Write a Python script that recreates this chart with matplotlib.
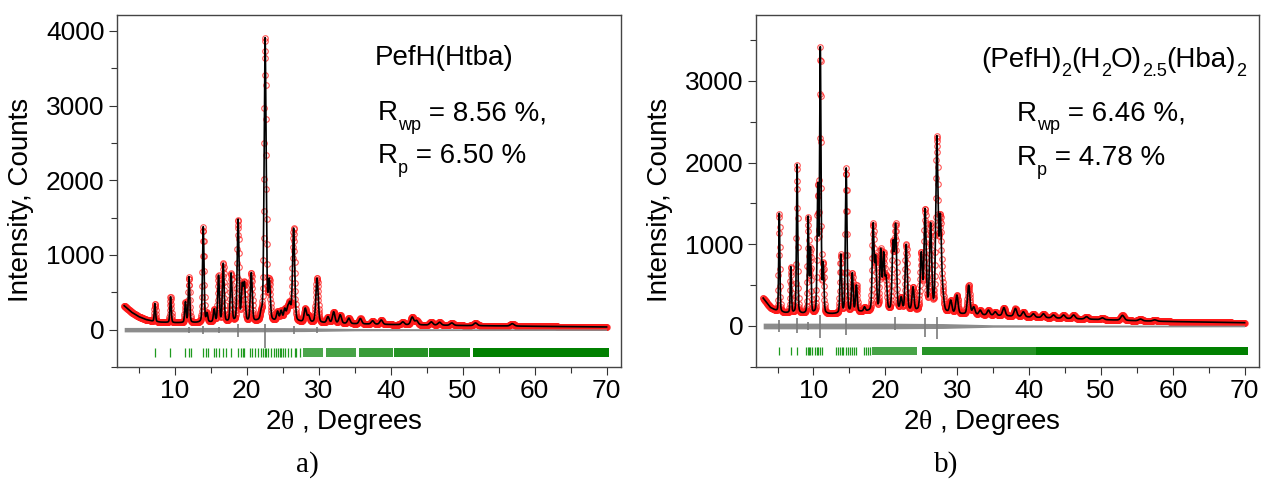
import numpy as np
import matplotlib
matplotlib.use("Agg")
import matplotlib.pyplot as plt
from matplotlib.ticker import MultipleLocator

plt.rcParams['font.family'] = ['Liberation Sans', 'DejaVu Sans']
plt.rcParams['mathtext.fontset'] = 'custom'
plt.rcParams['mathtext.rm'] = 'Liberation Sans'
plt.rcParams['mathtext.it'] = 'Liberation Serif'
plt.rcParams['mathtext.bf'] = 'Liberation Sans:bold'

# ---------------- data: panel a) PefH(Htba) ----------------
a_bg_x = [3, 4, 5, 6, 7, 8, 10, 13, 16, 20, 24, 27, 30, 35, 40, 50, 60, 70]
a_bg_y = [320, 235, 175, 135, 112, 100, 92, 92, 98, 102, 110, 105, 92, 78, 68, 55, 45, 36]
a_peak_pos = [7.27, 9.44, 11.5, 12.0, 13.98, 14.5, 15.5, 16.1, 16.76, 17.85, 18.82,
              19.4, 19.7, 20.65, 22.04, 22.57, 23.15, 24.3, 24.8, 25.3, 25.7, 26.0,
              26.53, 28.15, 28.6, 29.78, 31.3, 32.1, 33.0, 34.2, 35.8, 37.5, 38.7,
              41.7, 43.0, 43.6, 45.65, 46.8, 48.5, 51.8, 56.9]
a_peak_top = [350, 440, 375, 710, 1380, 230, 280, 730, 890, 760, 1480,
              630, 640, 765, 290, 3910, 690, 250, 260, 290, 320, 380,
              1360, 290, 200, 690, 175, 240, 200, 155, 150, 120, 130,
              105, 170, 125, 105, 100, 90, 90, 80]
a_diff_x = [3, 10, 20, 28, 35, 50, 70]
a_diff_amp = [30, 30, 30, 26, 16, 12, 10]
a_spike_pos = [11.95, 13.98, 16.1, 18.82, 22.57, 26.53, 29.78]
a_spike_lo = [-50, -60, -50, -100, -240, -60, -40]
a_spike_hi = [40, 50, 40, 70, 70, 50, 35]
a_refl = [7.27, 9.4, 11.5, 12.0, 12.3, 13.9, 14.3, 14.6, 15.5, 15.8, 16.1, 16.7,
          17.1, 17.9, 18.8, 19.2, 19.5, 19.7, 20.5, 20.7, 21.1, 21.6, 22.0, 22.3,
          22.5, 22.7, 23.0, 23.4, 23.8, 24.1, 24.35, 24.6, 24.8, 25.0, 25.4, 25.7,
          26.2, 26.7, 26.9, 27.4]
a_band_start = [27.9, 31.0, 35.6, 40.5, 45.4, 51.5]
a_band_end = [30.6, 35.2, 40.3, 45.2, 51.0, 70.4]
a_band_density = [0.7, 0.72, 0.78, 0.85, 0.9, 1.0]
a_title = [('PefH(Htba)', False)]
a_r1 = [('R', False), ('wp', True), (' = 8.56 %,', False)]
a_r2 = [('R', False), ('p', True), (' = 6.50 %', False)]

# ---------------- data: panel b) (PefH)2(H2O)2.5(Hba)2 ----------------
b_bg_x = [3, 4, 5, 6, 8, 10, 12, 14, 17, 20, 24, 28, 30, 35, 40, 45, 50, 55, 60, 70]
b_bg_y = [340, 225, 175, 160, 148, 140, 140, 150, 175, 180, 180, 165, 145, 130, 108, 92, 78, 64, 54, 40]
b_peak_pos = [5.24, 6.85, 7.72, 9.26, 9.58, 10.6, 10.95, 11.35, 13.8, 14.55, 15.4,
              15.97, 17.1, 18.3, 18.65, 19.35, 19.76, 20.1, 21.07, 21.43, 22.2, 22.9,
              23.85, 25.0, 25.54, 26.3, 27.17, 27.65, 28.0, 29.1, 29.96, 31.6, 32.3,
              33.2, 34.35, 35.3, 36.5, 38.1, 39.2, 40.6, 42.0, 43.4, 44.8, 46.2, 48.0,
              50.2, 53.0, 55.5, 57.5]
b_peak_top = [1380, 726, 1980, 1346, 971, 1754, 3420, 787, 881, 1935, 653,
              502, 236, 1265, 869, 951, 910, 624, 1053, 1257, 359, 1000,
              481, 910, 1440, 1265, 2330, 1380, 480, 318, 379, 500, 236,
              195, 195, 175, 225, 215, 175, 150, 150, 135, 135, 135, 114,
              100, 130, 85, 75]
b_diff_x = [3, 10, 20, 28, 35, 50, 70]
b_diff_amp = [35, 35, 35, 30, 15, 12, 10]
b_spike_pos = [5.24, 7.72, 9.26, 10.9, 14.55, 21.3, 25.54, 27.17]
b_spike_lo = [-70, -90, -50, -150, -110, -50, -130, -165]
b_spike_hi = [70, 95, 50, 135, 95, 110, 95, 115]
b_refl = [5.24, 6.85, 7.68, 8.93, 9.17, 9.4, 9.58, 9.86, 10.18, 10.42, 10.65, 10.88,
          11.25, 13.2, 13.4, 13.65, 13.9, 14.1, 14.5, 14.8, 15.05, 15.4, 15.7, 15.97,
          17.04, 17.36, 17.6, 17.8]
b_band_start = [18.1, 25.1, 41.0]
b_band_end = [24.4, 41.0, 70.5]
b_band_density = [0.72, 0.85, 1.0]
b_title = [('(PefH)', False), ('2', True), ('(H', False), ('2', True), ('O)', False),
           ('2.5', True), ('(Hba)', False), ('2', True)]
b_r1 = [('R', False), ('wp', True), (' = 6.46 %,', False)]
b_r2 = [('R', False), ('p', True), (' = 4.78 %', False)]

panels = [
    dict(bgx=a_bg_x, bgy=a_bg_y, pos=a_peak_pos, top=a_peak_top,
         dx=a_diff_x, damp=a_diff_amp, sp=a_spike_pos, slo=a_spike_lo, shi=a_spike_hi,
         refl=a_refl, bs=a_band_start, be=a_band_end, bd=a_band_density,
         ylim=(-500, 4213), tick_y=(-360, -250),
         texts=[(a_title, 37.8, 3543), (a_r1, 38.2, 2807), (a_r2, 38.2, 2228)],
         rect=[117/1265, 1 - 367/493, 504/1265, 352/493], cap='a)', cap_x=307/1265),
    dict(bgx=b_bg_x, bgy=b_bg_y, pos=b_peak_pos, top=b_peak_top,
         dx=b_diff_x, damp=b_diff_amp, sp=b_spike_pos, slo=b_spike_lo, shi=b_spike_hi,
         refl=b_refl, bs=b_band_start, be=b_band_end, bd=b_band_density,
         ylim=(-502, 3807), tick_y=(-355, -253),
         texts=[(b_title, 33.3, 3174), (b_r1, 38.3, 2515), (b_r2, 38.3, 1970)],
         rect=[756/1265, 1 - 367/493, 503/1265, 352/493], cap='b)', cap_x=946/1265),
]


def pv(x, c, w, eta=0.25):
    d = (x - c) / w
    return eta / (1 + 4 * d ** 2) + (1 - eta) * np.exp(-4 * np.log(2) * d ** 2)


def build(x, p):
    base = np.interp(x, p['bgx'], p['bgy'])
    pos = np.array(p['pos'], float)
    w = 0.14 + 0.008 * pos
    A = np.array([[pv(pi, pj, wj) for pj, wj in zip(pos, w)] for pi in pos])
    amp = np.linalg.solve(A, np.array(p['top'], float) - np.interp(pos, p['bgx'], p['bgy']))
    y = base.copy()
    for c, wj, a in zip(pos, w, amp):
        y += a * pv(x, c, wj)
    return y


def rich_text(ax, parts, x0, y0, size=20, subsize=13, drop=7.0):
    prev = None
    for txt, sub in parts:
        dy = -drop if sub else 0.0
        fs = subsize if sub else size
        if prev is None:
            prev = ax.annotate(txt, xy=(x0, y0), xycoords='data',
                               xytext=(0, dy), textcoords='offset points',
                               fontsize=fs, ha='left', va='baseline')
        else:
            prev = ax.annotate(txt, xy=(1.0, y0), xycoords=(prev, 'data'),
                               xytext=(0, dy), textcoords='offset points',
                               fontsize=fs, ha='left', va='baseline')


fig = plt.figure(figsize=(12.65, 4.93), dpi=100)
x = np.arange(3.0, 70.0001, 0.01)

for p in panels:
    ax = fig.add_axes(p['rect'])
    y = build(x, p)
    xo = x[::3]
    yo = y[::3]
    # observed
    ax.plot(xo, yo, 'o', ms=4.0, mfc='none', mec='#ff1a1a', mew=0.8, alpha=0.75, zorder=2)
    # calculated
    ax.plot(x, y, '-', color='black', lw=1.2, zorder=3)
    # difference
    env = np.interp(x, p['dx'], p['damp'])
    ax.fill_between(x, -env, env, color='#8c8c8c', lw=0, zorder=2)
    ax.vlines(p['sp'], p['slo'], p['shi'], color='#7a7a7a', lw=1.2, zorder=2)
    # reflection positions
    y0, y1 = p['tick_y']
    ax.vlines(p['refl'], y0, y1, color='#1f9a1f', lw=0.9, zorder=2)
    for s, e, d in zip(p['bs'], p['be'], p['bd']):
        ax.fill_between([s, e], y0, y1, color='#008000', alpha=d, lw=0, zorder=2)

    ax.set_xlim(2, 72)
    ax.set_ylim(*p['ylim'])
    ax.xaxis.set_major_locator(MultipleLocator(10))
    ax.xaxis.set_minor_locator(MultipleLocator(5))
    ax.yaxis.set_major_locator(MultipleLocator(1000))
    ax.yaxis.set_minor_locator(MultipleLocator(500))
    ax.tick_params(which='major', direction='out', length=6, width=0.8, labelsize=19,
                   pad=3, color='#333333')
    ax.tick_params(which='minor', direction='out', length=4, width=0.8, color='#333333')
    for s in ax.spines.values():
        s.set_linewidth(1.0)
        s.set_color('#444444')

    ax.set_xlabel('2$\\theta$ , Degrees', fontsize=20)
    ax.xaxis.set_label_coords(0.45, -0.159)
    ax.xaxis.label.set_va('center')
    ax.set_ylabel('Intensity, Counts', fontsize=20)
    ax.yaxis.label.set_va('center')
    ax.yaxis.set_label_coords(-0.19, 0.474)

    for parts, tx, ty in p['texts']:
        rich_text(ax, parts, tx, ty)

    fig.text(p['cap_x'], 1 - 465 / 493, p['cap'], fontsize=21, ha='center', va='center',
             family='Liberation Serif')

fig.savefig('out.png', dpi=100)
